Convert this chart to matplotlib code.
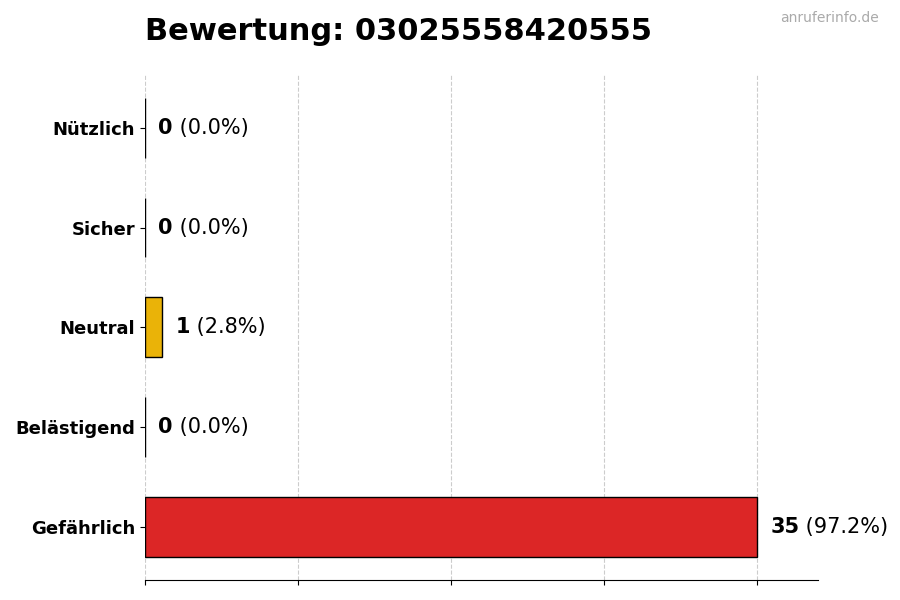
import matplotlib
matplotlib.use("Agg")
import matplotlib.pyplot as plt

categories = ["Nützlich", "Sicher", "Neutral", "Belästigend", "Gefährlich"]
values = [0, 0, 1, 0, 35]
colors = ["#22c55e", "#3b82f6", "#eab308", "#f97316", "#dc2626"]
title = "Bewertung: 03025558420555"
watermark = "anruferinfo.de"

total = sum(values)
fig = plt.figure(figsize=(9, 6), dpi=100)
ax = fig.add_axes([0.161, 0.034, 0.748, 0.841])

ypos = list(range(len(categories)))[::-1]
ax.barh(ypos, values, height=0.6, color=colors, edgecolor="black", linewidth=1, zorder=3)
ax.set_yticks(ypos)
ax.set_yticklabels(categories, fontsize=13, fontweight="bold")
ax.set_ylim(-0.53, len(categories) - 0.47)
xmax = max(values) * 1.1
ax.set_xlim(0, xmax)
step = max(values) / 4
ax.set_xticks([step * i for i in range(5)])
ax.set_xticklabels([])
ax.grid(axis="x", linestyle="--", color="#cccccc", linewidth=0.8, zorder=0)
for s in ["top", "right", "left"]:
    ax.spines[s].set_visible(False)

for y, v in zip(ypos, values):
    pct = v / total * 100
    t = ax.annotate(f"{v}", xy=(v, y), xytext=(9.5, 0), textcoords="offset points",
                    ha="left", va="center", fontsize=15, fontweight="bold")
    ax.annotate(f" ({pct:.1f}%)", xycoords=t, xy=(1, 0.5), va="center", ha="left",
                fontsize=15)

fig.text(0.161, 0.947, title, fontsize=22, fontweight="bold", ha="left", va="center")
fig.text(0.976, 0.97, watermark, fontsize=10, color="#aaaaaa", ha="right", va="center")

fig.savefig("out.png", dpi=100)
